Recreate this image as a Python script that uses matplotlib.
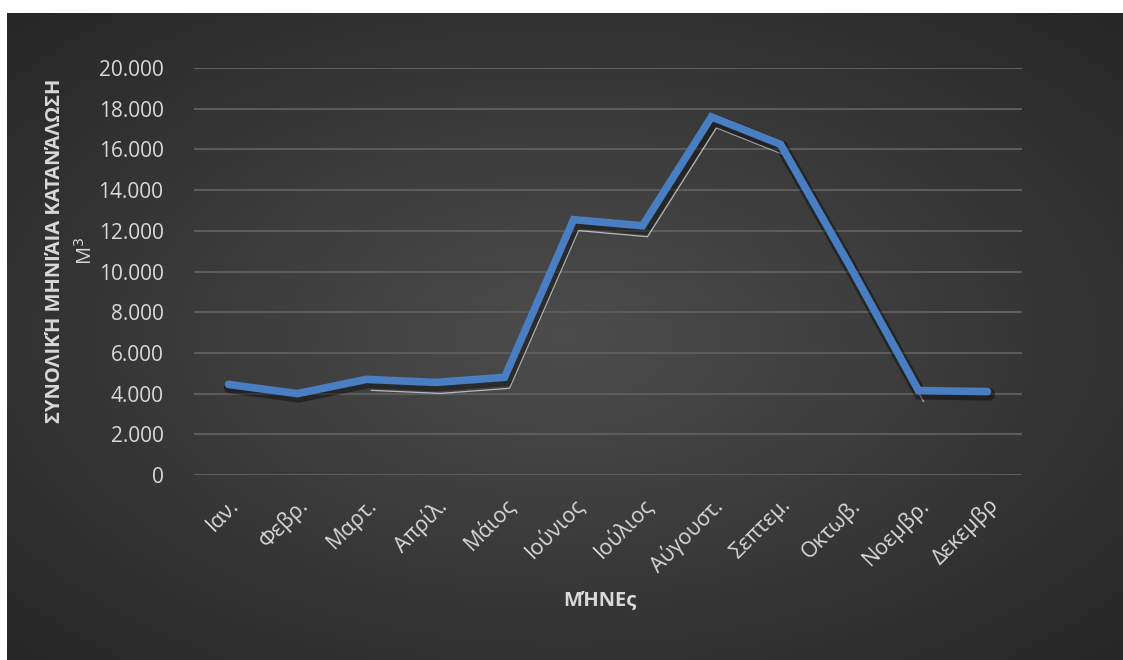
import numpy as np
import matplotlib.pyplot as plt
import matplotlib.patheffects as pe
from matplotlib.transforms import offset_copy

plt.rcParams['font.family'] = ['Open Sans', 'Noto Sans', 'DejaVu Sans']

# monthly consumption (m3)
months = ["Ιαν.", "Φεβρ.", "Μαρτ.", "Απρίλ.", "Μάιος", "Ιούνιος", "Ιούλιος",
          "Αύγουστ.", "Σεπτεμ.", "Οκτωβ.", "Νοεμβρ.", "Δεκεμβρ"]
consumption = [4450, 4000, 4700, 4550, 4800, 12550, 12250,
               17600, 16250, 10300, 4150, 4100]
yticks = [0, 2000, 4000, 6000, 8000, 10000, 12000, 14000, 16000, 18000, 20000]
ytick_labels = ["0", "2.000", "4.000", "6.000", "8.000", "10.000", "12.000",
                "14.000", "16.000", "18.000", "20.000"]

W, H = 1123, 660
fig = plt.figure(figsize=(W / 100, H / 100), dpi=100)
fig.patch.set_facecolor("white")

# dark radial-gradient panel
bg = fig.add_axes([7 / W, 0, 1 - 7 / W, 1 - 13 / H])
yy, xx = np.mgrid[0:1:300j, 0:1:500j]
r = np.sqrt(((xx - 0.5) / 0.75) ** 2 + ((yy - 0.5) / 0.75) ** 2)
r = np.clip(r / 0.95, 0, 1)
shade = 0.30 - 0.15 * r
img = np.dstack([shade, shade, shade])
bg.imshow(img, aspect="auto", extent=[0, 1, 0, 1], interpolation="bicubic")
bg.set_axis_off()

ax = fig.add_axes([194 / W, 1 - 475 / H, (1022 - 194) / W, (475 - 68) / H])
ax.set_facecolor("none")
x = np.arange(len(months))

# thin light trace under the main line
trace = offset_copy(ax.transData, fig=fig, x=5, y=-11, units="dots")
ax.plot(x[2:11], consumption[2:11], color="#e8e8e8", lw=0.9, alpha=0.7,
        transform=trace, zorder=2)

ax.plot(x, consumption, color="#4a7ec3", lw=5.5, solid_capstyle="round",
        solid_joinstyle="miter", zorder=3,
        path_effects=[pe.SimpleLineShadow(offset=(1, -2), shadow_color="black", alpha=0.4,
                                          linewidth=9),
                      pe.Normal()])

ax.set_xlim(-0.5, len(months) - 0.5)
ax.set_ylim(0, 20000)
ax.set_yticks(yticks)
ax.set_yticklabels(ytick_labels)
ax.set_xticks(x)
ax.set_xticklabels(months, rotation=45, ha="right", rotation_mode="anchor")
ax.tick_params(axis="both", length=0, colors="#d9d9d9")
ax.tick_params(axis="x", pad=14, labelsize=15.5)
ax.tick_params(axis="y", pad=22, labelsize=15)
ax.grid(axis="y", color="#5c5c5c", lw=1.5)
ax.set_axisbelow(True)
for s in ax.spines.values():
    s.set_visible(False)

fig.text(600 / W, 1 - 600 / H, "ΜΉΝΕς", color="#d9d9d9", fontsize=14.5,
         fontweight="bold", ha="center", va="center")
fig.text(55 / W, 1 - 251 / H, "ΣΥΝΟΛΙΚΉ ΜΗΝΙΆΙΑ ΚΑΤΑΝΆΛΩΣΗ", color="#d9d9d9",
         fontsize=14.5, fontweight="bold", rotation=90, ha="center", va="center")
fig.text(86 / W, 1 - 251 / H, "M$^3$", color="#d9d9d9", fontsize=14.5,
         rotation=90, ha="center", va="center")

fig.savefig("out.png", dpi=100)
